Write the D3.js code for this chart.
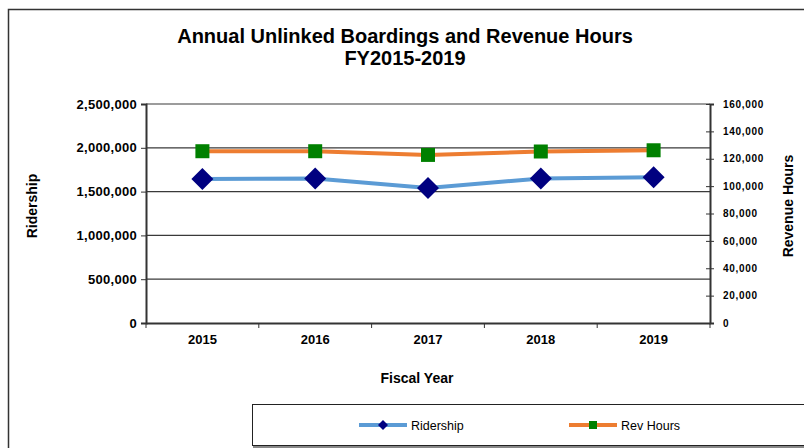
<!DOCTYPE html>
<html><head><meta charset="utf-8">
<script src="https://cdn.jsdelivr.net/npm/d3@7"></script>
<style>body{margin:0;background:#fff;} text{font-family:"Liberation Sans",Arial,sans-serif;}</style>
</head><body>
<svg id="c" width="804" height="448"></svg>
<script>
const years = ["2015","2016","2017","2018","2019"];
const ridership = [1645000, 1650000, 1540000, 1650000, 1665000];
const revHours = [125500, 125500, 122800, 125300, 126200];
const leftTicks = [0, 500000, 1000000, 1500000, 2000000, 2500000];
const rightTicks = [0, 20000, 40000, 60000, 80000, 100000, 120000, 140000, 160000];

const svg = d3.select("#c");
const L = 146, R = 710, T = 104, B = 323;
const FF = "Liberation Sans, Arial, sans-serif";

// outer border
svg.append("rect").attr("x", 8.5).attr("y", 9.5).attr("width", 820).attr("height", 460)
  .attr("fill", "none").attr("stroke", "#333").attr("stroke-width", 1.5);

svg.append("text").attr("x", 405).attr("y", 43).attr("text-anchor", "middle")
  .attr("font-size", 20).attr("font-weight", "bold").text("Annual Unlinked Boardings and Revenue Hours");
svg.append("text").attr("x", 405).attr("y", 65).attr("text-anchor", "middle")
  .attr("font-size", 20).attr("font-weight", "bold").text("FY2015-2019");

const x = d3.scaleBand().domain(years).range([L, R]);
const yL = d3.scaleLinear().domain([0, 2500000]).range([B, T]);
const yR = d3.scaleLinear().domain([0, 160000]).range([B, T]);

// gridlines
svg.append("g").selectAll("line").data(leftTicks.filter(d => d > 0)).join("line")
  .attr("x1", L).attr("x2", R).attr("y1", d => yL(d)).attr("y2", d => yL(d))
  .attr("stroke", "#3a3a3a").attr("stroke-width", 1.2);

const fmt = d3.format(",");
const gL = svg.append("g").attr("transform", `translate(${L},0)`)
  .call(d3.axisLeft(yL).tickValues(leftTicks).tickFormat(fmt).tickSize(5).tickPadding(4));
gL.select(".domain").attr("stroke", "#333").attr("stroke-width", 2);
gL.selectAll(".tick line").attr("stroke", "#333");
gL.selectAll("text").attr("font-size", 13).attr("font-weight", "bold").attr("fill", "#000")
  .attr("letter-spacing", 0.3).attr("font-family", FF);

const gR = svg.append("g").attr("transform", `translate(${R},0)`)
  .call(d3.axisRight(yR).tickValues(rightTicks).tickFormat(fmt).tickSize(4).tickPadding(9));
gR.select(".domain").attr("stroke", "#333").attr("stroke-width", 2);
gR.selectAll(".tick line").attr("stroke", "#333").attr("x1", -4);
gR.selectAll("text").attr("font-size", 10).attr("font-weight", "bold").attr("fill", "#000")
  .attr("letter-spacing", 0.7).attr("font-family", FF);

// bottom axis with ticks at category boundaries
const gB = svg.append("g").attr("transform", `translate(0,${B})`)
  .call(d3.axisBottom(x).tickSize(0).tickPadding(12));
gB.select(".domain").attr("stroke", "#333").attr("stroke-width", 2);
gB.selectAll("text").attr("font-size", 13).attr("font-weight", "bold").attr("fill", "#000")
  .attr("font-family", FF);
const bounds = years.map(d => x(d)).concat([x(years[years.length - 1]) + x.bandwidth()]);
gB.selectAll(".bt").data(bounds).join("line").attr("class", "bt")
  .attr("x1", d => d).attr("x2", d => d).attr("y1", 0).attr("y2", 5).attr("stroke", "#333");

// axis titles
svg.append("text").attr("transform", `translate(37,206) rotate(-90)`).attr("text-anchor", "middle")
  .attr("font-size", 14).attr("font-weight", "bold").text("Ridership");
svg.append("text").attr("transform", `translate(793,206) rotate(-90)`).attr("text-anchor", "middle")
  .attr("font-size", 14).attr("font-weight", "bold").text("Revenue Hours");
svg.append("text").attr("x", 417).attr("y", 383).attr("text-anchor", "middle")
  .attr("font-size", 14).attr("font-weight", "bold").text("Fiscal Year");

const cx = d => x(d) + x.bandwidth() / 2;
const lineL = d3.line().x((d, i) => cx(years[i])).y(d => yL(d));
const lineR = d3.line().x((d, i) => cx(years[i])).y(d => yR(d));

svg.append("path").attr("d", lineL(ridership)).attr("fill", "none").attr("stroke", "#5B9BD5").attr("stroke-width", 4);
svg.append("path").attr("d", lineR(revHours)).attr("fill", "none").attr("stroke", "#ED7D31").attr("stroke-width", 4);

svg.append("g").selectAll("path").data(ridership).join("path")
  .attr("transform", (d, i) => `translate(${cx(years[i])},${yL(d)})`)
  .attr("d", "M0,-11L11,0L0,11L-11,0Z").attr("fill", "#000080");
svg.append("g").selectAll("rect").data(revHours).join("rect")
  .attr("x", (d, i) => cx(years[i]) - 7).attr("y", d => yR(d) - 7)
  .attr("width", 14).attr("height", 14).attr("fill", "#008000");

// legend
svg.append("rect").attr("x", 252.5).attr("y", 404.5).attr("width", 600).attr("height", 41)
  .attr("fill", "#fff").attr("stroke", "#222").attr("stroke-width", 1);
svg.append("line").attr("x1", 253).attr("x2", 804).attr("y1", 447).attr("y2", 447).attr("stroke", "#888").attr("stroke-width", 2);
const lg = [{name: "Ridership", c: "#5B9BD5", m: "#000080", x: 359, shape: "d"},
            {name: "Rev Hours", c: "#ED7D31", m: "#008000", x: 569, shape: "s"}];
lg.forEach(o => {
  svg.append("line").attr("x1", o.x).attr("x2", o.x + 48).attr("y1", 425).attr("y2", 425)
    .attr("stroke", o.c).attr("stroke-width", 4);
  if (o.shape === "d") svg.append("path").attr("transform", `translate(${o.x + 24},425)`)
    .attr("d", "M0,-5L5,0L0,5L-5,0Z").attr("fill", o.m);
  else svg.append("rect").attr("x", o.x + 20).attr("y", 421).attr("width", 8).attr("height", 8).attr("fill", o.m);
  svg.append("text").attr("x", o.x + 52).attr("y", 430).attr("font-size", 12.5).text(o.name);
});
</script>
</body></html>
